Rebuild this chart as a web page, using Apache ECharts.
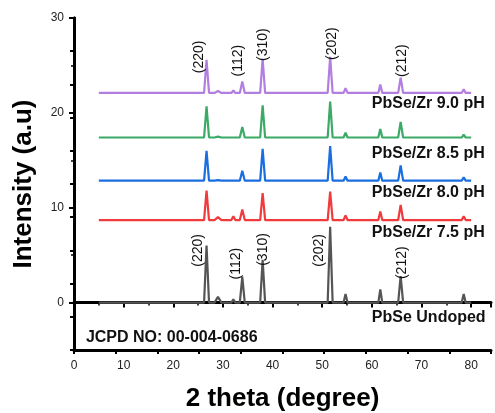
<!DOCTYPE html>
<html>
<head>
<meta charset="utf-8">
<script src="https://cdn.jsdelivr.net/npm/echarts@6/dist/echarts.min.js"></script>
<style>
  html, body { margin: 0; padding: 0; background: #fff; }
  #chart { width: 495px; height: 413px; }
</style>
</head>
<body>
<div id="chart"></div>
<script>
// 2 theta positions (deg) shared by all patterns
const twoTheta = [5, 26.2, 26.7, 27.2, 28.3, 29.0, 29.7, 31.7, 32.1, 32.5, 33.4, 33.9, 34.4,
  37.5, 38.0, 38.5, 51.1, 51.6, 52.1, 54.3, 54.7, 55.1, 61.3, 61.7, 62.1,
  65.3, 65.8, 66.3, 78.1, 78.5, 78.9, 80]

// intensity (offset, a.u.)
const undoped = [0, 0, 6.0, 0, 0, 0.6, 0, 0, 0.35, 0, 0, 2.7, 0,
  0, 4.5, 0, 0, 8.0, 0, 0, 0.9, 0, 0, 1.4, 0,
  0, 2.8, 0, 0, 0.9, 0, 0]
const ph75 = [8.7, 8.7, 11.8, 8.7, 8.7, 9.0, 8.7, 8.7, 9.1, 8.7, 8.7, 9.8, 8.7,
  8.7, 11.55, 8.7, 8.7, 11.7, 8.7, 8.7, 9.2, 8.7, 8.7, 9.6, 8.7,
  8.7, 10.3, 8.7, 8.7, 9.1, 8.7, 8.7]
const ph80 = [12.85, 12.85, 16.0, 12.85, 12.85, 12.9, 12.85, 12.85, 12.9, 12.85, 12.85, 13.9, 12.85,
  12.85, 16.2, 12.85, 12.85, 16.5, 12.85, 12.85, 13.3, 12.85, 12.85, 13.7, 12.85,
  12.85, 14.45, 12.85, 12.85, 13.2, 12.85, 12.85]
const ph85 = [17.4, 17.4, 20.7, 17.4, 17.4, 17.5, 17.4, 17.4, 17.5, 17.4, 17.4, 18.5, 17.4,
  17.4, 20.8, 17.4, 17.4, 21.2, 17.4, 17.4, 17.9, 17.4, 17.4, 18.3, 17.4,
  17.4, 19.05, 17.4, 17.4, 17.7, 17.4, 17.4]
const ph90 = [22.1, 22.1, 25.6, 22.1, 22.1, 22.3, 22.1, 22.1, 22.35, 22.1, 22.1, 23.3, 22.1,
  22.1, 25.7, 22.1, 22.1, 25.9, 22.1, 22.1, 22.6, 22.1, 22.1, 23.0, 22.1,
  22.1, 23.7, 22.1, 22.1, 22.5, 22.1, 22.1]

const seriesNames = ['PbSe Undoped', 'PbSe/Zr 7.5 pH', 'PbSe/Zr 8.0 pH', 'PbSe/Zr 8.5 pH', 'PbSe/Zr 9.0 pH']
const seriesColors = ['#555555', '#f03a3c', '#1a6ee0', '#3aaa66', '#b27ee0']
const seriesValues = [undoped, ph75, ph80, ph85, ph90]

// sample label anchors (data coords: left x, middle y)
const sampleLabelX = [60.0, 60.0, 60.0, 60.0, 60.0]
const sampleLabelY = [-1.6, 7.35, 11.6, 15.7, 21.0]

// (hkl) labels, rotated, centre in data coords
const hklNames = ['(220)', '(112)', '(310)', '(202)', '(212)']
const hklTopX = [25.2, 33.0, 38.1, 52.0, 66.1]
const hklTopY = [25.9, 25.5, 27.2, 27.3, 25.5]
const hklBotX = [25.0, 32.6, 38.1, 49.4, 66.1]
const hklBotY = [5.5, 4.1, 5.6, 5.5, 4.2]

const yTickLabels = [0, 10, 20, 30]

const jcpdText = 'JCPD NO: 00-004-0686'
const jcpdPos = [2.4, -3.7]

const FONT = '"Liberation Sans", Arial, sans-serif'

const chart = echarts.init(document.getElementById('chart'))

const axisLine = { show: true, lineStyle: { color: '#000', width: 3 } }
const tickStyle = { color: '#000', width: 2 }

const option = {
  animation: false,
  grid: { left: 74, right: 4, top: 18, bottom: 63, outerBoundsMode: 'none', containLabel: false },
  xAxis: [
    {
      type: 'value',
      min: 0,
      max: 84,
      interval: 10,
      name: '2 theta (degree)',
      nameLocation: 'middle',
      nameGap: 36,
      nameTextStyle: { fontFamily: FONT, fontSize: 26, fontWeight: 'bold', color: '#000' },
      axisLine,
      axisTick: { show: true, length: 5, lineStyle: tickStyle },
      minorTick: { show: true, splitNumber: 2, length: 3, lineStyle: { color: '#000', width: 1.5 } },
      axisLabel: {
        fontFamily: FONT, fontSize: 12, color: '#222', margin: 10,
        formatter: v => (v % 10 === 0 && v <= 80 ? String(v) : '')
      },
      splitLine: { show: false }
    },
    {
      type: 'value',
      position: 'top',
      min: 0,
      max: 10,
      interval: 1,
      axisLine,
      axisTick: { show: true, inside: true, length: 4, lineStyle: tickStyle },
      axisLabel: { show: false },
      splitLine: { show: false }
    }
  ],
  yAxis: [
    {
      type: 'value',
      position: 'left',
      min: -5,
      max: 30,
      interval: 5,
      name: 'Intensity (a.u)',
      nameLocation: 'middle',
      nameGap: 37,
      nameTextStyle: { fontFamily: FONT, fontSize: 26, fontWeight: 'bold', color: '#000' },
      axisLine,
      axisTick: { show: true, length: 5, lineStyle: tickStyle, customValues: yTickLabels },
      axisLabel: {
        fontFamily: FONT, fontSize: 12, color: '#222', margin: 10,
        customValues: yTickLabels
      },
      splitLine: { show: false }
    },
    {
      type: 'value',
      position: 'right',
      min: 0,
      max: 10,
      interval: 1,
      axisLine,
      axisTick: { show: true, inside: true, length: 4, lineStyle: tickStyle },
      axisLabel: { show: false },
      splitLine: { show: false }
    },
    {
      // minor ticks at -5, 5, 15, 25 on the left axis
      type: 'value',
      position: 'left',
      offset: 0,
      min: -5,
      max: 30,
      interval: 10,
      axisLine: { show: false },
      axisTick: { show: true, length: 3, lineStyle: { color: '#000', width: 1.5 } },
      axisLabel: { show: false },
      splitLine: { show: false }
    }
  ],
  series: seriesValues.map((vals, i) => ({
    name: seriesNames[i],
    type: 'line',
    showSymbol: false,
    lineStyle: { width: 2.2, color: seriesColors[i] },
    itemStyle: { color: seriesColors[i] },
    data: twoTheta.map((t, k) => [t, vals[k]])
  }))
}

chart.setOption(option)

// annotations placed through the chart's own scale
const px = (x, y) => chart.convertToPixel({ xAxisIndex: 0, yAxisIndex: 0 }, [x, y])
const graphics = []

seriesNames.forEach((name, i) => {
  const p = px(sampleLabelX[i], sampleLabelY[i])
  graphics.push({
    type: 'text', x: p[0], y: p[1], z: 100,
    style: { text: name, font: 'bold 16px ' + FONT, fill: '#111', textAlign: 'left', textVerticalAlign: 'middle' }
  })
})

const addHkl = (xs, ys) => {
  hklNames.forEach((name, i) => {
    const p = px(xs[i], ys[i])
    graphics.push({
      type: 'text', x: p[0], y: p[1], rotation: Math.PI / 2, z: 100,
      style: { text: name, font: '14px ' + FONT, fill: '#111', textAlign: 'center', textVerticalAlign: 'middle' }
    })
  })
}
addHkl(hklTopX, hklTopY)
addHkl(hklBotX, hklBotY)

const jp = px(jcpdPos[0], jcpdPos[1])
graphics.push({
  type: 'text', x: jp[0], y: jp[1], z: 100,
  style: { text: jcpdText, font: 'bold 16px ' + FONT, fill: '#111', textAlign: 'left', textVerticalAlign: 'middle' }
})

chart.setOption({ graphic: graphics })
</script>
</body>
</html>
